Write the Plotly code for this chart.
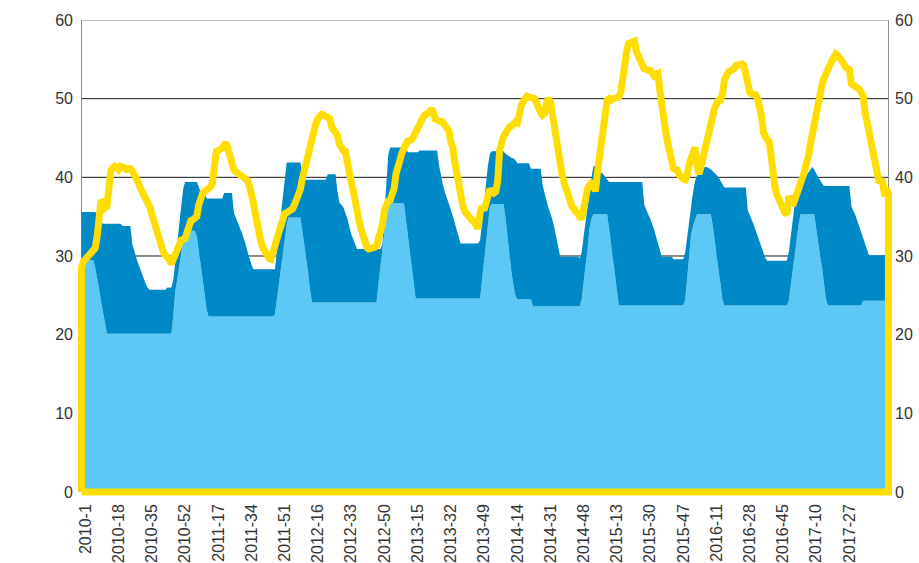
import plotly.graph_objects as go

# ---- categories (ISO weeks) ----
year_weeks = [(2010, 52), (2011, 52), (2012, 52), (2013, 52), (2014, 52), (2015, 53), (2016, 52), (2017, 49)]
weeks = [f"{y}-{w}" for y, n in year_weeks for w in range(1, n + 1)]

tick_labels = ["2010-1", "2010-18", "2010-35", "2010-52", "2011-17", "2011-34", "2011-51",
               "2012-16", "2012-33", "2012-50", "2013-15", "2013-32", "2013-49", "2014-14",
               "2014-31", "2014-48", "2015-13", "2015-30", "2015-47", "2016-11", "2016-28",
               "2016-45", "2017-10", "2017-27"]

y_ticks = [0, 10, 20, 30, 40, 50, 60]

# ---- light blue area (bottom) ----
light = [
    # 2010
    29.5, 29.5, 29.5, 29.5, 29.5, 29.5, 29.5, 28.5, 27.3, 25.8, 24.2, 22.8, 21.3,
    20.1, 20.1, 20.1, 20.1, 20.1, 20.1, 20.1, 20.1, 20.1, 20.1, 20.1, 20.1, 20.1, 20.1, 20.1, 20.1, 20.1,
    20.1, 20.1, 20.1, 20.1, 20.1, 20.1, 20.1, 20.1, 20.1, 20.1, 20.1, 20.1, 20.1, 20.1, 20.1, 20.1, 20.1,
    22.5, 25.5, 27.0, 28.8, 30.2,
    # 2011
    32.0, 33.2, 33.2, 33.2, 33.2, 33.2, 33.2, 32.5, 30.8, 29.2, 27.2, 25.2, 23.2,
    22.3, 22.3, 22.3, 22.3, 22.3, 22.3, 22.3, 22.3, 22.3, 22.3, 22.3, 22.3, 22.3, 22.3, 22.3, 22.3, 22.3,
    22.3, 22.3, 22.3, 22.3, 22.3, 22.3, 22.3, 22.3, 22.3, 22.3, 22.3, 22.3, 22.3, 22.3, 22.3, 22.3, 22.3,
    22.6, 24.5, 26.6, 28.5, 30.5,
    # 2012
    32.5, 34.0, 34.9, 34.9, 34.9, 34.9, 34.9, 34.9, 34.9, 33.2, 31.5, 29.7, 27.8, 25.6,
    24.1, 24.1, 24.1, 24.1, 24.1, 24.1, 24.1, 24.1, 24.1, 24.1, 24.1, 24.1, 24.1, 24.1, 24.1, 24.1, 24.1,
    24.1, 24.1, 24.1, 24.1, 24.1, 24.1, 24.1, 24.1, 24.1, 24.1, 24.1, 24.1, 24.1, 24.1, 24.1, 24.1, 24.1,
    26.5, 28.8, 31.0, 33.5,
    # 2013
    35.3, 36.3, 36.7, 36.7, 36.7, 36.7, 36.7, 36.7, 36.7, 36.7, 34.7, 32.7, 30.7, 28.7, 26.5,
    24.6, 24.6, 24.6, 24.6, 24.6, 24.6, 24.6, 24.6, 24.6, 24.6, 24.6, 24.6, 24.6, 24.6, 24.6, 24.6, 24.6,
    24.6, 24.6, 24.6, 24.6, 24.6, 24.6, 24.6, 24.6, 24.6, 24.6, 24.6, 24.6, 24.6, 24.6, 24.6, 24.6, 24.6,
    27.0, 29.5, 32.0,
    # 2014
    34.5, 36.3, 36.6, 36.6, 36.6, 36.6, 36.6, 36.6, 36.6, 34.8, 32.5, 30.0, 28.0, 26.3, 25.0,
    24.5, 24.5, 24.5, 24.5, 24.5, 24.5, 24.5, 24.5,
    23.6, 23.6, 23.6, 23.6, 23.6, 23.6, 23.6, 23.6, 23.6, 23.6, 23.6, 23.6, 23.6,
    23.6, 23.6, 23.6, 23.6, 23.6, 23.6, 23.6, 23.6, 23.6, 23.6, 23.6, 23.6,
    24.5, 26.5, 29.0, 31.0,
    # 2015
    33.5, 34.8, 35.3, 35.3, 35.3, 35.3, 35.3, 35.3, 35.3, 35.3, 33.5, 31.5, 29.5, 27.3, 25.3,
    23.7, 23.7, 23.7, 23.7, 23.7, 23.7, 23.7, 23.7, 23.7, 23.7, 23.7, 23.7, 23.7, 23.7, 23.7, 23.7, 23.7,
    23.7, 23.7, 23.7, 23.7, 23.7, 23.7, 23.7, 23.7, 23.7, 23.7, 23.7, 23.7, 23.7, 23.7, 23.7, 23.7, 23.7,
    24.5, 27.5, 30.5, 32.8,
    # 2016
    33.8, 34.6, 35.3, 35.3, 35.3, 35.3, 35.3, 35.3, 35.3, 35.3, 34.0, 31.8, 30.0, 28.2, 26.5, 24.5,
    23.7, 23.7, 23.7, 23.7, 23.7, 23.7, 23.7, 23.7, 23.7, 23.7, 23.7, 23.7, 23.7, 23.7, 23.7, 23.7, 23.7,
    23.7, 23.7, 23.7, 23.7, 23.7, 23.7, 23.7, 23.7, 23.7, 23.7, 23.7, 23.7, 23.7, 23.7, 23.7, 23.7,
    24.3, 26.3, 28.5,
    # 2017
    30.6, 32.3, 34.0, 35.3, 35.3, 35.3, 35.3, 35.3, 35.3, 35.3, 35.3, 33.5, 31.5, 30.0, 28.5, 26.5, 24.5,
    23.7, 23.7, 23.7, 23.7, 23.7, 23.7, 23.7, 23.7, 23.7, 23.7, 23.7, 23.7, 23.7, 23.7, 23.7, 23.7, 23.7, 23.7,
    24.3, 24.3, 24.3, 24.3, 24.3, 24.3, 24.3, 24.3, 24.3, 24.3, 24.3, 24.3, 24.3, 24.3,
]

# ---- top of dark blue area (stack total) ----
total = [
    # 2010
    35.6, 35.6, 35.6, 35.6, 35.6, 35.6, 35.6, 35.6, 35.2, 34.7, 34.3,
    34.1, 34.1, 34.1, 34.1, 34.1, 34.1, 34.1, 34.1, 34.1, 34.1,
    33.8, 33.8, 33.8, 33.8, 33.8,
    31.5, 30.5, 29.8, 29.0, 28.3, 27.6, 27.0, 26.4, 25.9,
    25.7, 25.7, 25.7, 25.7, 25.7, 25.7, 25.7, 25.7, 25.7,
    26.0, 26.0, 26.0, 27.0, 29.5, 31.8, 34.0, 36.3,
    # 2011
    38.5, 39.4, 39.4, 39.4, 39.4, 39.4, 39.4, 39.4, 38.8, 38.1, 38.1, 38.1,
    37.3, 37.3, 37.3, 37.3, 37.3, 37.3, 37.3, 37.3, 37.3,
    38.0, 38.0, 38.0, 38.0, 38.0,
    35.5, 34.8, 34.2, 33.6, 33.0, 32.3, 31.5, 30.5, 29.6, 28.9,
    28.3, 28.3, 28.3, 28.3, 28.3, 28.3, 28.3, 28.3, 28.3, 28.3, 28.3, 28.3,
    30.7, 33.1, 35.5, 37.9,
    # 2012
    40.3, 41.9, 41.9, 41.9, 41.9, 41.9, 41.9, 41.9, 41.9, 40.8,
    39.7, 39.7, 39.7, 39.7, 39.7, 39.7, 39.7, 39.7, 39.7, 39.7, 39.7, 39.7,
    40.4, 40.4, 40.4, 40.4, 40.4,
    38.2, 36.8, 36.5, 36.2, 35.5, 34.8, 33.8, 32.8, 32.2, 31.6,
    30.9, 30.9, 30.9, 30.9, 30.9, 30.9, 30.9, 30.9, 30.9, 30.9, 30.9, 30.9, 30.9,
    31.5, 35.3,
    # 2013
    39.1, 42.9, 43.8, 43.8, 43.8, 43.8, 43.8, 43.8, 43.8, 43.8, 43.8,
    43.2, 43.2, 43.2, 43.2, 43.2, 43.2,
    43.4, 43.4, 43.4, 43.4, 43.4, 43.4, 43.4, 43.4, 43.4, 43.4,
    41.5, 40.0, 39.0, 38.1, 37.4, 36.8, 35.9, 35.1, 34.2, 33.3, 32.4,
    31.6, 31.6, 31.6, 31.6, 31.6, 31.6, 31.6, 31.6, 31.6, 31.6,
    32.0, 34.5, 37.0, 39.5,
    # 2014
    41.5, 43.0, 43.3, 43.3, 43.3, 43.3, 43.3, 43.3, 43.3,
    43.0, 42.8, 42.6, 42.5, 42.4, 42.2,
    41.8, 41.8, 41.8, 41.8, 41.8, 41.8, 41.8,
    41.1, 41.1, 41.1, 41.1, 41.1, 41.1,
    39.0, 37.8, 37.0, 36.1, 35.4, 34.6, 33.6, 32.5, 31.0,
    29.9, 29.9, 29.9, 29.9, 29.9, 29.9, 29.9, 29.9, 29.9, 29.9,
    29.7, 30.5, 32.5, 34.5, 36.5,
    # 2015
    38.3, 40.0, 41.4, 41.4, 41.4, 41.0, 40.6, 40.4, 40.1, 39.8,
    39.4, 39.4, 39.4, 39.4, 39.4, 39.4, 39.4, 39.4, 39.4, 39.4, 39.4, 39.4, 39.4, 39.4, 39.4, 39.4, 39.4, 39.4,
    36.5, 35.8, 35.3, 34.8, 34.2, 33.4, 32.5, 31.6, 30.6,
    29.9, 29.9, 29.9, 29.9, 29.9, 29.9,
    29.6, 29.6, 29.6, 29.6, 29.6, 29.6,
    30.5, 32.5, 34.6, 36.6,
    # 2016
    38.2, 39.5, 40.2, 40.5, 40.8, 41.0, 41.3, 41.3, 41.2, 41.0, 40.8, 40.6, 40.3, 40.0, 39.6, 39.1,
    38.7, 38.7, 38.7, 38.7, 38.7, 38.7, 38.7, 38.7, 38.7, 38.7, 38.7, 38.7,
    35.8, 35.3, 34.6, 34.0, 33.3, 32.6, 32.0, 31.3, 30.5, 29.7,
    29.4, 29.4, 29.4, 29.4, 29.4, 29.4, 29.4, 29.4, 29.4, 29.4, 29.4,
    30.5, 32.8, 35.0,
    # 2017
    36.6, 37.8, 38.7, 39.2, 39.6, 40.0, 40.3, 40.6, 41.0, 41.3, 41.0, 40.4, 40.0, 39.6, 39.3,
    38.9, 38.9, 38.9, 38.9, 38.9, 38.9, 38.9, 38.9, 38.9, 38.9, 38.9, 38.9, 38.9, 38.9,
    36.3, 35.8, 35.2, 34.5, 33.8, 33.1, 32.4, 31.7, 30.9,
    30.1, 30.1, 30.1, 30.1, 30.1, 30.1, 30.1, 30.1, 30.1, 30.1, 30.1,
]

# ---- yellow line ----
yellow = [
    # 2010
    28.5, 29.3, 29.6, 29.9, 30.1, 30.3, 30.6, 31.0, 32.5, 35.5, 37.1, 36.8, 36.1, 36.3, 39.0, 40.8, 41.2,
    41.4, 41.3, 41.0, 41.4, 41.4, 41.2, 41.0, 41.1, 41.1, 40.8, 40.4, 40.0, 39.4, 38.7, 38.2, 37.9, 37.6,
    37.1, 36.2, 35.3, 34.4, 33.5, 32.5, 31.6, 30.9, 30.4, 30.1, 29.9, 29.5, 29.0, 29.6, 30.5, 31.2, 31.9, 32.0,
    # 2011
    32.1, 32.2, 33.0, 34.1, 34.5, 34.6, 34.7, 35.0, 36.5, 37.6, 38.0, 38.2, 38.4, 38.6, 38.8, 39.3, 42.8,
    43.3, 43.4, 43.5, 43.7, 44.1, 44.4, 43.6, 42.6, 41.4, 40.9, 40.7, 40.5, 40.4, 40.2, 40.0, 39.9, 39.6,
    38.9, 38.0, 36.7, 35.3, 33.8, 32.7, 31.6, 31.0, 30.5, 30.0, 29.7, 29.6, 30.6, 31.8, 32.4, 33.0, 33.8, 34.7,
    # 2012
    35.4, 35.5, 35.6, 35.8, 36.0, 36.5, 37.1, 37.8, 38.5, 39.8, 40.8, 42.2, 43.5, 44.6, 45.6, 46.3, 46.9,
    47.5, 47.9, 48.0, 47.9, 47.8, 47.7, 47.5, 46.4, 46.0, 46.0, 45.3, 44.2, 43.6, 43.4, 43.3, 41.6, 40.4,
    39.4, 38.4, 36.6, 35.5, 34.5, 33.5, 32.5, 31.5, 31.1, 30.9, 30.9, 31.0, 31.1, 31.3, 32.0, 32.8, 34.0, 35.8,
    # 2013
    36.6, 37.0, 37.1, 37.8, 38.6, 40.5, 41.8, 42.2, 43.1, 43.9, 44.2, 44.6, 44.7, 44.8, 45.2, 45.8, 46.3,
    47.0, 47.4, 47.7, 48.0, 48.1, 48.2, 48.7, 48.3, 47.4, 47.2, 47.2, 47.1, 47.0, 46.6, 46.2, 45.9, 44.5,
    43.8, 42.0, 40.3, 39.4, 37.8, 36.6, 35.7, 35.3, 35.1, 34.5, 34.5, 34.3, 33.8, 33.5, 35.5, 36.3, 35.8, 37.0,
    # 2014
    38.4, 38.5, 38.2, 38.0, 38.2, 39.5, 43.5, 44.8, 45.2, 45.6, 46.1, 46.4, 46.5, 46.8, 47.0, 46.9, 48.4,
    49.0, 49.6, 50.1, 50.3, 50.2, 50.1, 50.0, 50.0, 49.4, 48.6, 48.2, 47.9, 48.1, 49.5, 50.0, 49.6, 47.8,
    46.2, 44.8, 43.2, 41.8, 40.3, 39.3, 38.4, 37.6, 36.8, 36.3, 36.0, 35.7, 35.5, 35.1, 34.7, 36.0, 37.8, 38.6,
    # 2015
    39.0, 39.3, 39.2, 38.2, 40.5, 42.4, 44.5, 46.5, 48.5, 49.8, 50.0, 49.8, 50.0, 50.0, 50.1, 50.2, 50.8,
    53.0, 54.5, 56.0, 57.0, 57.1, 57.2, 57.3, 56.0, 55.2, 54.7, 54.3, 53.8, 53.6, 53.6, 53.6, 53.0, 52.9,
    53.1, 53.2, 51.0, 48.8, 47.2, 45.8, 44.4, 43.2, 41.8, 41.1, 41.0, 40.9, 40.3, 39.8, 39.8, 39.7, 40.3,
    41.7, 42.7,
    # 2016
    43.4, 43.8, 41.5, 40.4, 41.3, 42.5, 43.5, 44.3, 45.8, 47.3, 48.1, 48.8, 49.3, 49.8, 49.8, 50.5, 52.3,
    53.1, 53.4, 53.5, 53.6, 53.8, 54.2, 54.3, 54.4, 54.4, 54.2, 53.0, 51.1, 50.8, 50.6, 50.6, 50.5, 50.0,
    49.0, 47.8, 45.7, 45.0, 44.8, 44.5, 41.8, 40.5, 38.6, 37.7, 37.0, 36.3, 35.8, 35.5, 35.3, 37.6, 37.0, 36.4,
    # 2017
    37.1, 37.8, 38.6, 39.3, 39.8, 40.7, 41.9, 42.6, 44.2, 45.6, 46.5, 47.6, 49.5, 51.1, 51.8, 52.6, 53.3,
    53.8, 54.4, 54.8, 55.2, 55.7, 55.5, 55.2, 55.0, 54.5, 54.0, 53.8, 53.7, 51.9, 51.7, 51.6, 51.5, 51.2,
    50.8, 50.4, 48.3, 47.0, 45.6, 44.6, 43.6, 42.6, 40.8, 39.6, 39.5, 39.5, 37.6, 38.6, 37.8,
]

assert len(light) == len(weeks), (len(light), len(weeks))
assert len(total) == len(weeks), (len(total), len(weeks))
assert len(yellow) == len(weeks), (len(yellow), len(weeks))

LIGHT = "#5BC8F5"
DARK = "#0089C7"
YELLOW = "#FFDD00"
FONT = "Liberation Sans, Arial, sans-serif"
n = len(weeks)

fig = go.Figure()
fig.add_trace(go.Scatter(x=weeks, y=light, mode="lines", line=dict(width=0, color=LIGHT),
                         fill="tozeroy", fillcolor=LIGHT, hoverinfo="skip"))
fig.add_trace(go.Scatter(x=weeks, y=total, mode="lines", line=dict(width=0, color=DARK),
                         fill="tonexty", fillcolor=DARK, hoverinfo="skip"))
# yellow series drawn as an outlined (unfilled) area: baseline -> values -> baseline
fig.add_trace(go.Scatter(x=[weeks[0]] + weeks + [weeks[-1], weeks[0]],
                         y=[0] + yellow + [0, 0],
                         mode="lines", line=dict(width=7, color=YELLOW),
                         yaxis="y2", hoverinfo="skip"))

shapes = []
for v in y_ticks[1:]:
    shapes.append(dict(type="line", xref="x", yref="y", x0=0, x1=n - 1, y0=v, y1=v,
                       line=dict(color="#7f7f7f" if v == 60 else "#1a1a1a", width=1), layer="below"))
for xv in (0, n - 1):
    shapes.append(dict(type="line", xref="x", yref="y", x0=xv, x1=xv, y0=0, y1=60,
                       line=dict(color="#8c8c8c", width=1), layer="below"))

fig.update_layout(
    width=919, height=563,
    margin=dict(l=78, r=27, t=20, b=67),
    paper_bgcolor="white", plot_bgcolor="white",
    showlegend=False,
    font=dict(family=FONT, size=16, color="#333333"),
    shapes=shapes,
    xaxis=dict(type="category", range=[-1.8, n - 1 + 1.8], tickmode="array",
               tickvals=tick_labels, ticktext=tick_labels, tickangle=-90,
               showgrid=False, showline=False, zeroline=False, ticks="",
               ticklabelshift=4, ticklabelstandoff=4,
               automargin=False, tickfont=dict(size=16, color="#333333")),
    yaxis=dict(range=[-0.51, 60], tickmode="array", tickvals=y_ticks,
               showgrid=False, zeroline=False, showline=False, ticks="",
               ticklabelstandoff=4,
               automargin=False, tickfont=dict(size=16, color="#333333")),
    yaxis2=dict(range=[-0.51, 60], overlaying="y", side="right", tickmode="array",
                tickvals=y_ticks, showgrid=False, zeroline=False, showline=False,
                ticks="", ticklabelstandoff=2,
                automargin=False, tickfont=dict(size=16, color="#333333")),
)

# remove the browser's default 8px page margin so the 919x563 figure fills the window exactly
fig.write_html("out.html",
               config={"displayModeBar": False},
               post_script="document.body.style.margin='0';document.body.style.overflow='hidden';")
